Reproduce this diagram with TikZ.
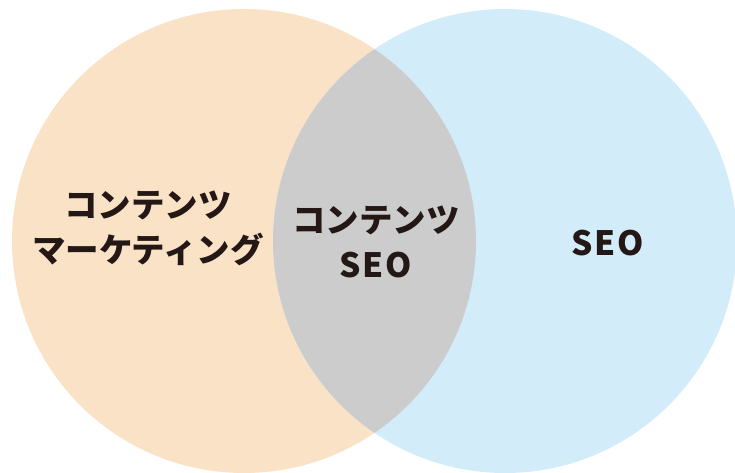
\documentclass[tikz,border=0pt]{standalone}
\usepackage{fontspec}
\newfontfamily\jpfont{Noto Sans CJK JP}
\usetikzlibrary{positioning}

\definecolor{mktorange}{RGB}{250,226,198}
\definecolor{seoblue}{RGB}{211,236,249}
\definecolor{overlapgray}{RGB}{204,204,204}
\definecolor{labeltext}{RGB}{35,24,21}

\newcommand{\seotext}{{\addfontfeature{LetterSpace=5}SEO}}

\begin{document}
\begin{tikzpicture}[x=1pt, y=-1pt]
\tikzstyle{label}=[text=labeltext, font=\jpfont\bfseries\fontsize{33.5}{45}\selectfont, align=center, inner sep=0pt]
\useasboundingbox (0,0) rectangle (735,472);
\clip (0,0) rectangle (735,472);

% circles
\fill[mktorange] (244,241) circle (232);
\fill[seoblue]   (505,241) circle (232);
\begin{scope}
\clip (244,241) circle (232);
\fill[overlapgray] (505,241) circle (232);
\end{scope}

% labels
\node[label] (marketing) at (148,228) {コンテンツ\\マーケティング};
\node[label] (contentseo) at (376,242) {コンテンツ\\\seotext};
\node[label] (seo) at (608,243) {\seotext};
\end{tikzpicture}
\end{document}
